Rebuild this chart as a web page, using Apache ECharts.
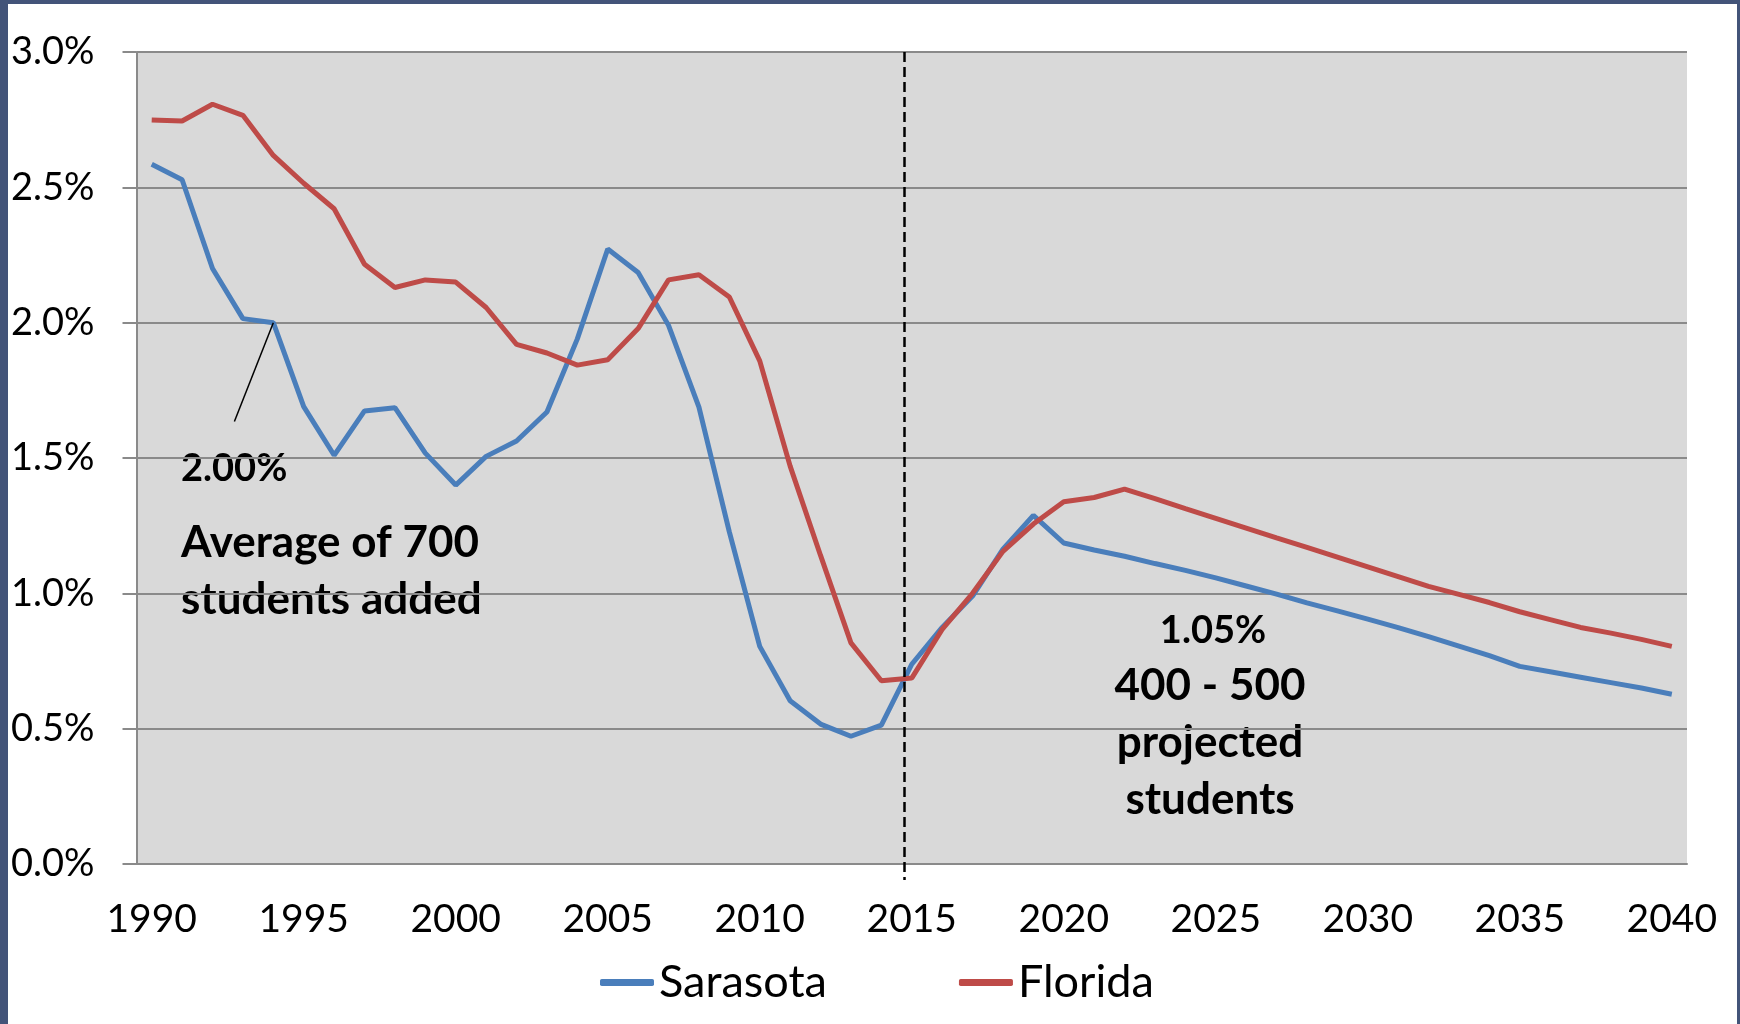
<!DOCTYPE html>
<html>
<head>
<meta charset="UTF-8">
<title>Sarasota vs Florida</title>
<script src="https://cdn.jsdelivr.net/npm/echarts@6/dist/echarts.min.js"></script>
<style>
	body { margin: 0; background: #fff; }
	#frame {
		position: absolute; left: 0; top: 0;
		width: 1740px; height: 1024px;
		box-sizing: border-box;
		border-left: 8px solid #435479;
		border-top: 4px solid #435479;
		border-right: 3px solid #435479;
	}
	#chart { width: 1729px; height: 1020px; }
</style>
</head>
<body>
<div id="frame"><div id="chart"></div></div>
<script>
// years on the category axis
var years = [];
for (var y = 1990; y <= 2040; y++) years.push(String(y));

// annual growth rate, percent
var sarasota = [
	2.585, 2.528, 2.20, 2.015, 2.00, 1.69, 1.51, 1.674, 1.686, 1.518,
	1.40, 1.506, 1.563, 1.67, 1.94, 2.272, 2.185, 1.99, 1.688, 1.227,
	0.804, 0.603, 0.517, 0.472, 0.513, 0.738, 0.874, 0.99, 1.163, 1.288,
	1.186, 1.16, 1.137, 1.11, 1.085, 1.057, 1.027, 0.997, 0.965, 0.935,
	0.905, 0.873, 0.84, 0.805, 0.77, 0.73, 0.71, 0.69, 0.67, 0.65,
	0.627
];
var florida = [
	2.749, 2.745, 2.807, 2.766, 2.618, 2.515, 2.421, 2.216, 2.13, 2.158,
	2.15, 2.056, 1.92, 1.888, 1.843, 1.863, 1.978, 2.158, 2.177, 2.095,
	1.859, 1.47, 1.14, 0.817, 0.677, 0.687, 0.867, 1.0, 1.155, 1.256,
	1.338, 1.354, 1.385, 1.35, 1.313, 1.277, 1.241, 1.205, 1.17, 1.134,
	1.098, 1.062, 1.026, 0.996, 0.966, 0.932, 0.903, 0.874, 0.853, 0.83,
	0.804
];

// dashed "today" marker (runs a little below the axis) and the leader line of the left note
var splitYear = 2014.75;
var splitFrom = -0.059;
var leaderFrom = [1992.72, 1.635];
var leaderTo = [1994, 2.0];

var gray = '#8a8a8a';
var font = 'Lato';

function note(text, x, y, size, align) {
	return {
		type: 'text', x: x, y: y, silent: true,
		style: {
			text: text, fill: '#000', fontFamily: font, fontWeight: 'bold',
			fontSize: size, align: align, verticalAlign: 'middle'
		}
	};
}

var chart = echarts.init(document.getElementById('chart'));
chart.setOption({
	animation: false,
	backgroundColor: '#fff',
	textStyle: { fontFamily: font },
	grid: [{
		left: 128, right: 50, top: 48, bottom: 160,
		show: true, backgroundColor: '#d9d9d9', borderWidth: 0
	}, {
		// same plot, stretched 16px lower, only used for the dashed marker
		left: 128, right: 50, top: 48, bottom: 144
	}],
	legend: {
		left: 587, top: 951,
		icon: 'roundRect', itemWidth: 54, itemHeight: 7, itemGap: 132,
		textStyle: { fontFamily: font, fontSize: 45, color: '#000' },
		data: ['Sarasota', 'Florida']
	},
	xAxis: [{
		type: 'category',
		data: years,
		boundaryGap: true,
		axisLine: { lineStyle: { color: gray, width: 2 } },
		axisTick: { interval: 4, length: 13, lineStyle: { color: gray, width: 2 } },
		axisLabel: { interval: 4, margin: 36, fontSize: 39, color: '#000', fontFamily: font },
		splitLine: { show: false }
	}, {
		type: 'value', min: 1989.5, max: 2040.5, show: false
	}, {
		type: 'value', gridIndex: 1, min: 1989.5, max: 2040.5, show: false
	}],
	yAxis: [{
		type: 'value', min: 0, max: 3, interval: 0.5,
		axisLine: { show: true, lineStyle: { color: gray, width: 2 } },
		axisTick: { show: true, length: 14, lineStyle: { color: gray, width: 2 } },
		axisLabel: {
			margin: 42, fontSize: 38, color: '#000', fontFamily: font,
			formatter: function (v) { return v.toFixed(1) + '%'; }
		},
		splitLine: { lineStyle: { color: gray, width: 2 } }
	}, {
		type: 'value', gridIndex: 1, min: splitFrom, max: 3, show: false
	}],
	series: [{
		name: 'Sarasota', type: 'line', data: sarasota,
		symbol: 'none', color: '#4a7ebb',
		lineStyle: { width: 5, color: '#4a7ebb' }
	}, {
		name: 'Florida', type: 'line', data: florida,
		symbol: 'none', color: '#be4b48',
		lineStyle: { width: 5, color: '#be4b48' }
	}, {
		name: 'leader', type: 'line', xAxisIndex: 1, yAxisIndex: 0, data: [],
		silent: true,
		markLine: {
			silent: true, symbol: 'none', label: { show: false },
			data: [
				[{ coord: leaderFrom, lineStyle: { color: '#000', width: 1.5, type: 'solid' } },
				 { coord: leaderTo }]
			]
		}
	}, {
		name: 'split', type: 'line', xAxisIndex: 2, yAxisIndex: 1, data: [],
		silent: true,
		markLine: {
			silent: true, symbol: 'none', label: { show: false },
			data: [
				[{ coord: [splitYear, 3], lineStyle: { color: '#000', width: 2.5, type: [10, 5] } },
				 { coord: [splitYear, splitFrom] }]
			]
		}
	}],
	graphic: [
		note('2.00%', 173, 465, 38, 'left'),
		note('Average of 700', 173, 539, 44, 'left'),
		note('students added', 173, 596, 44, 'left'),
		note('1.05%', 1205, 627, 38, 'center'),
		note('400 - 500', 1202, 682, 44, 'center'),
		note('projected', 1202, 739, 44, 'center'),
		note('students', 1202, 796, 44, 'center')
	]
});
</script>
</body>
</html>
